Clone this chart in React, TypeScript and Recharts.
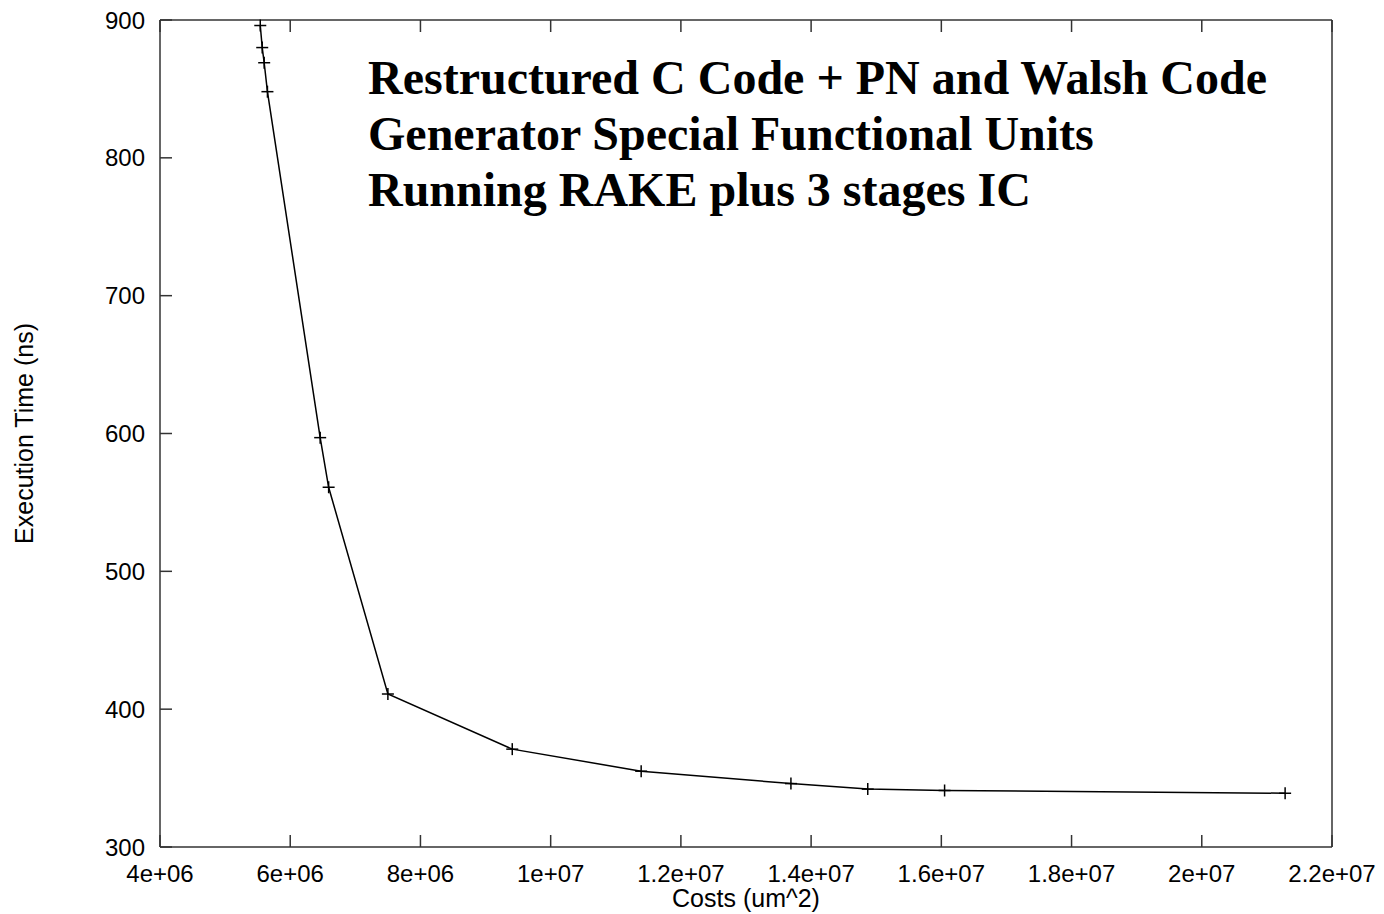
import React from 'react';
import { LineChart, Line, XAxis, YAxis } from 'recharts';

// chip area (um^2) and execution time (ns)
const costs = [5.54e6, 5.57e6, 5.6e6, 5.65e6, 6.46e6, 6.59e6, 7.5e6, 9.41e6, 11.39e6, 13.69e6, 14.87e6, 16.05e6, 21.28e6];
const execTimes = [896, 880, 869, 848, 597, 561, 411, 371, 355, 346, 342, 341, 339];

const xTicks = [4e6, 6e6, 8e6, 1e7, 1.2e7, 1.4e7, 1.6e7, 1.8e7, 2e7, 2.2e7];
const yTicks = [300, 400, 500, 600, 700, 800, 900];

const titleLines = [
  'Restructured C Code + PN and Walsh Code',
  'Generator Special Functional Units',
  'Running RAKE plus 3 stages IC',
];

const data = costs.map((c, i) => ({ cost: c, time: execTimes[i] }));

// gnuplot style: 4e+06, 1.2e+07
const sciFormat = (v: number) => {
  const [m, e] = v.toExponential().split('e');
  const sign = e[0];
  const digits = e.slice(1).padStart(2, '0');
  return `${m}e${sign}${digits}`;
};

const FONT = '"Liberation Sans", Arial, sans-serif';
const AXIS = '#333';

const PlusDot = (props: any) => {
  const { cx, cy, index } = props;
  if (cx == null || cy == null) return <g key={`d-${index}`} />;
  return (
    <g key={`d-${index}`}>
      <line x1={cx - 6} x2={cx + 6} y1={cy} y2={cy} stroke="#000" strokeWidth={1.5} />
      <line x1={cx} x2={cx} y1={cy - 6} y2={cy + 6} stroke="#000" strokeWidth={1.5} />
    </g>
  );
};

const tickStyle = { fontFamily: FONT, fontSize: 24, fill: '#000' };
const labelStyle = { fontFamily: FONT, fontSize: 25, fill: '#000' };

const App: React.FC = () => {
  return (
    <div style={{ position: 'absolute', left: 0, top: 0, width: 1384, height: 914, background: '#fff' }}>
      <LineChart width={1384} height={914} data={data} margin={{ top: 10, right: 42, bottom: 7, left: 10 }}>
        <XAxis
          dataKey="cost"
          type="number"
          domain={[4e6, 2.2e7]}
          ticks={xTicks}
          interval={0}
          tickFormatter={sciFormat}
          height={60}
          tickSize={-12}
          tickMargin={30}
          stroke={AXIS}
          strokeWidth={1.5}
          tick={tickStyle}
          label={{ value: 'Costs (um^2)', position: 'insideBottom', offset: 0, style: labelStyle }}
        />
        <XAxis
          xAxisId="top"
          orientation="top"
          dataKey="cost"
          type="number"
          domain={[4e6, 2.2e7]}
          ticks={xTicks}
          interval={0}
          height={10}
          tickSize={-12}
          stroke={AXIS}
          strokeWidth={1.5}
          tick={() => <g />}
        />
        <YAxis
          type="number"
          domain={[300, 900]}
          ticks={yTicks}
          interval={0}
          width={150}
          tickSize={-12}
          tickMargin={27}
          stroke={AXIS}
          strokeWidth={1.5}
          tick={tickStyle}
          label={{
            value: 'Execution Time (ns)',
            angle: -90,
            position: 'insideLeft',
            offset: 14,
            style: { ...labelStyle, textAnchor: 'middle' },
          }}
        />
        <YAxis
          yAxisId="right"
          orientation="right"
          type="number"
          domain={[300, 900]}
          ticks={yTicks}
          interval={0}
          width={10}
          tickSize={-12}
          stroke={AXIS}
          strokeWidth={1.5}
          tick={() => <g />}
        />
        <Line
          type="linear"
          dataKey="time"
          stroke="#000"
          strokeWidth={1.5}
          dot={PlusDot}
          activeDot={false}
          isAnimationActive={false}
        />
      </LineChart>
      <div
        style={{
          position: 'absolute',
          left: 368,
          top: 50,
          fontFamily: '"Liberation Serif", "Times New Roman", serif',
          fontWeight: 'bold',
          fontSize: 48,
          lineHeight: '56px',
          color: '#000',
          whiteSpace: 'nowrap',
        }}
      >
        {titleLines.map((t) => (
          <div key={t}>{t}</div>
        ))}
      </div>
    </div>
  );
};

export default App;
